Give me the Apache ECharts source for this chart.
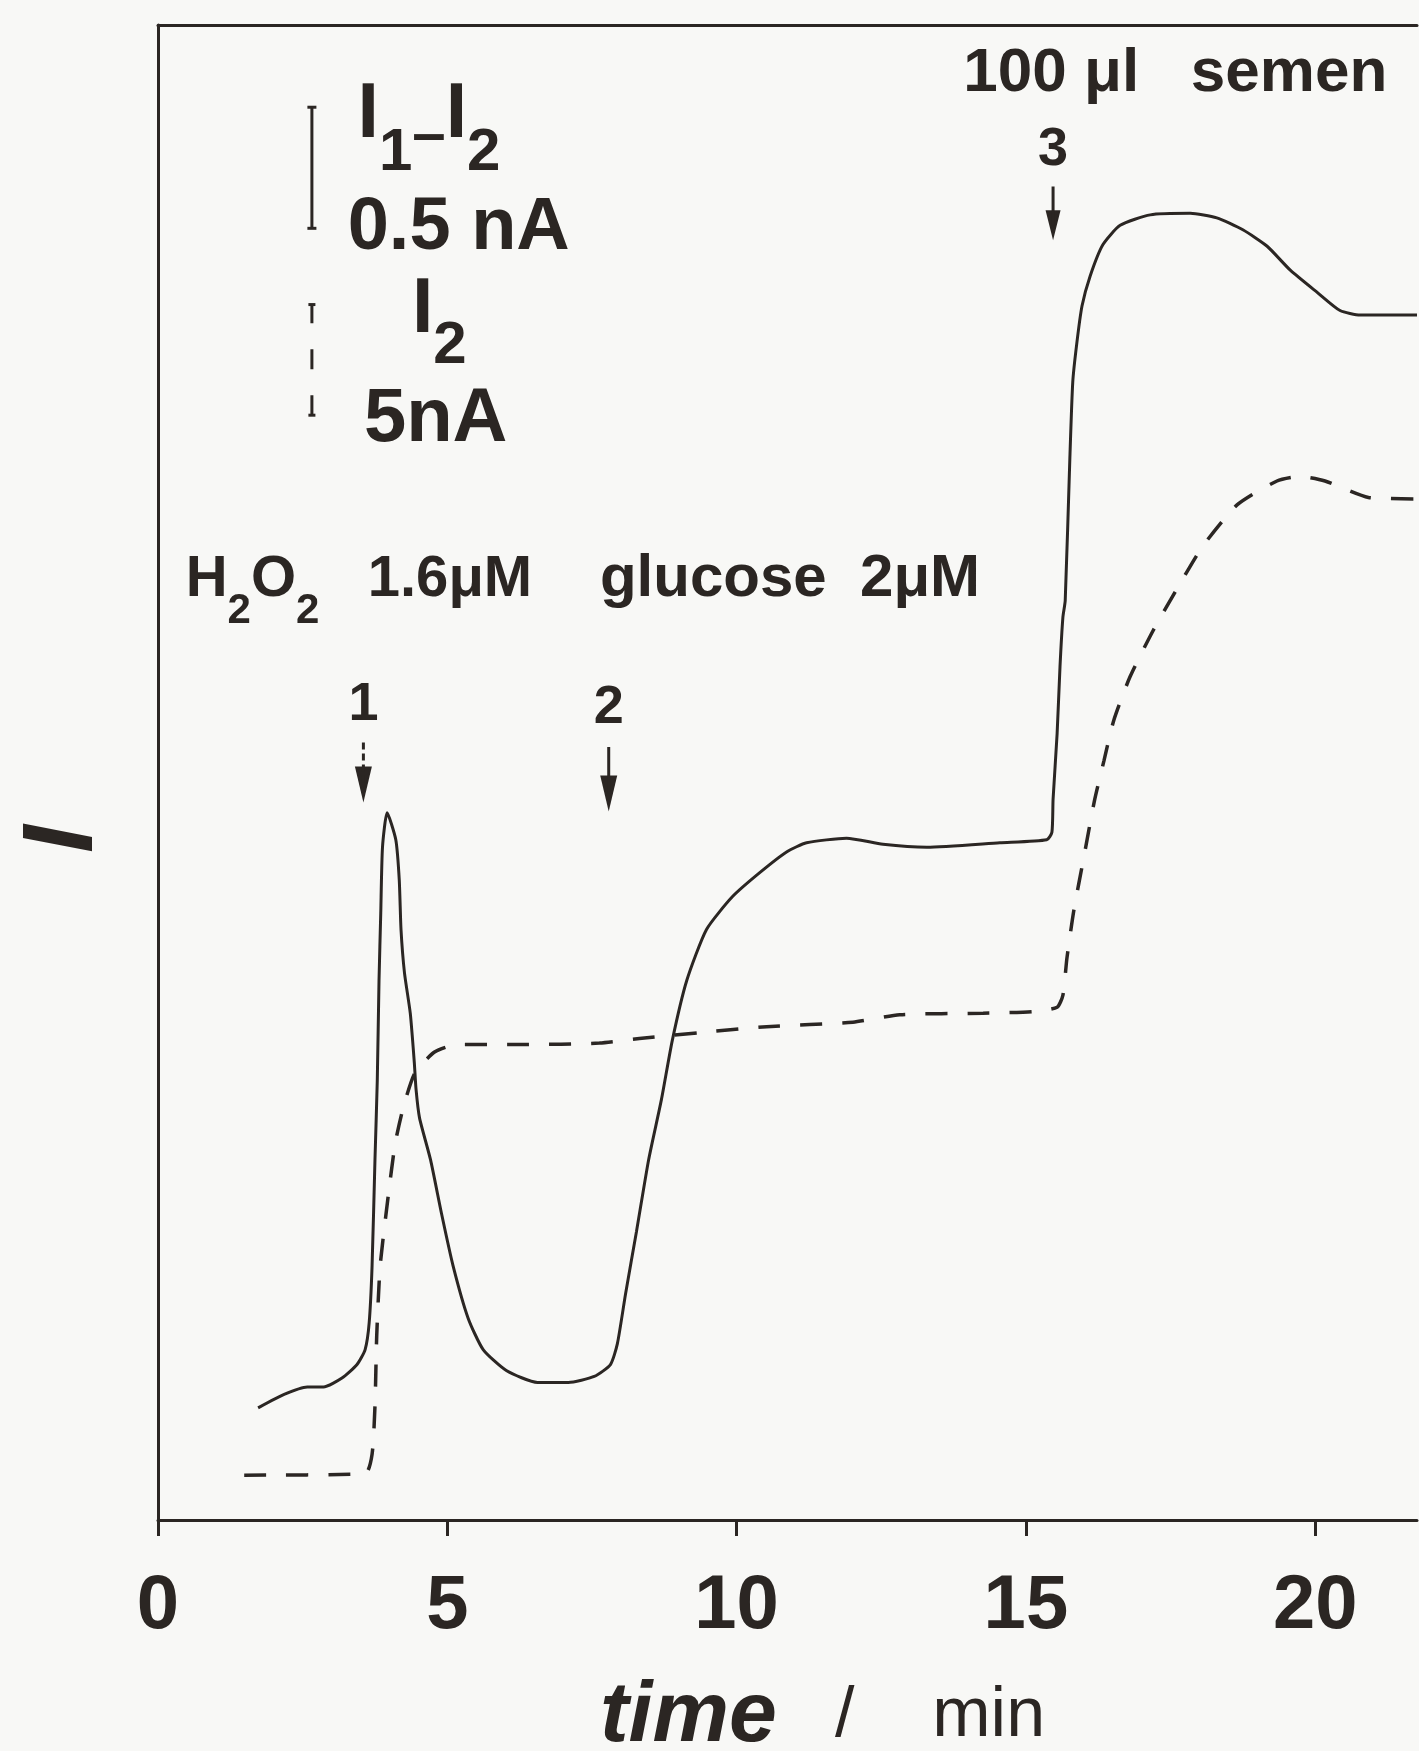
<!DOCTYPE html>
<html>
<head>
<meta charset="utf-8">
<title>I1-I2 and I2 versus time</title>
<script src="https://cdn.jsdelivr.net/npm/echarts@6/dist/echarts.min.js"></script>
<style>
  html, body { margin: 0; padding: 0; background: #f8f8f6; }
  #chart { width: 1419px; height: 1751px; }
</style>
</head>
<body>
<div id="chart"></div>
<script>
// x axis ticks (min)
const xTicks = [0, 5, 10, 15, 20];

// solid trace, I1 - I2 (signal in arbitrary units, 0 = time axis, 100 = top frame)
const diffTime = [1.73, 2.18, 2.58, 2.86, 3.18, 3.44, 3.58, 3.65, 3.70, 3.75,
  3.79, 3.82, 3.85, 3.88, 3.96, 4.11, 4.17, 4.20, 4.26, 4.36,
  4.43, 4.46, 4.52, 4.71, 4.90, 5.10, 5.36, 5.62, 6.02, 6.56,
  7.09, 7.54, 7.82, 7.94, 8.08, 8.27, 8.48, 8.70, 8.89, 9.14,
  9.48, 9.93, 10.40, 10.87, 11.21, 11.90, 12.53, 13.29, 14.55, 15.36,
  15.45, 15.47, 15.54, 15.59, 15.64, 15.68, 15.76, 15.81, 15.88, 15.97,
  16.11, 16.33, 16.63, 17.15, 17.84, 18.30, 18.75, 19.17, 19.57, 20.04,
  20.43, 20.78, 21.76];
const diffSignal = [7.5, 8.4, 8.9, 8.9, 9.5, 10.4, 11.4, 13.2, 17.0, 24.1,
  29.4, 36.1, 40.6, 45.0, 47.3, 45.5, 42.8, 39.5, 36.6, 33.9,
  30.6, 28.8, 26.9, 24.1, 20.5, 17.0, 13.5, 11.4, 10.0, 9.2,
  9.2, 9.6, 10.4, 11.8, 15.1, 19.3, 24.1, 28.1, 32.1, 36.1,
  39.5, 41.7, 43.3, 44.7, 45.3, 45.6, 45.2, 45.0, 45.3, 45.5,
  46.0, 48.2, 52.6, 57.1, 60.4, 61.5, 71.0, 76.1, 78.7, 81.2,
  83.2, 85.3, 86.6, 87.3, 87.4, 87.1, 86.3, 85.2, 83.6, 82.1,
  80.9, 80.6, 80.6];

// dashed trace, I2
const i2Time = [1.49, 3.58, 3.70, 3.75, 3.78, 3.84, 3.98, 4.10, 4.24, 4.44,
  4.78, 5.17, 6.30, 7.63, 8.32, 9.36, 10.52, 12.01, 12.82, 14.26,
  15.12, 15.54, 15.64, 15.71, 15.83, 16.00, 16.19, 16.35, 16.52, 16.80,
  17.20, 17.63, 18.05, 18.65, 19.34, 19.74, 20.17, 20.92, 21.76];
const i2Signal = [3.0, 3.1, 4.4, 7.6, 12.3, 17.0, 21.7, 25.2, 27.6, 29.9,
  31.3, 31.8, 31.8, 31.9, 32.2, 32.6, 33.0, 33.3, 33.8, 33.9,
  34.0, 34.3, 35.1, 37.6, 40.8, 44.3, 48.2, 50.8, 53.5, 56.4,
  59.5, 62.4, 65.1, 67.9, 69.5, 69.8, 69.5, 68.4, 68.3];

// scale bars (0.5 nA for I1-I2, 5 nA for I2)
const scaleBarTime = 2.66;
const solidBarRange = [86.4, 94.5];
const dashedBarRange = [73.9, 81.3];

// additions 1, 2, 3 with arrows
const eventTime = [3.55, 7.79, 15.47];
const eventLabel = ['1', '2', '3'];
const eventLabelLevel = [54.5, 54.3, 91.6];
const arrowTop = [52.0, 51.7, 89.2];
const arrowHead = [49.2, 48.6, 86.6];

const ink = '#2b2623';
const font = '"Liberation Sans", Arial, sans-serif';

const bold = (size, extra) => Object.assign(
  { fontFamily: font, fontWeight: 'bold', fontSize: size, color: ink }, extra || {});

const textItem = (t, v, formatter, rich) => ({
  value: [t, v],
  label: { show: true, position: 'right', distance: 0, formatter: formatter, rich: rich }
});

const annotations = [
  textItem(0.47, 62.9, '{m|H}{s|2}{m|O}{s|2}{m|   1.6μM}',
    { m: bold(58), s: bold(42, { padding: [64, 0, 0, 0] }) }),
  textItem(7.63, 62.9, '{m|glucose  2μM}', { m: bold(60) }),
  textItem(13.91, 96.7, '{m|100 μl   semen}', { m: bold(62) }),
  textItem(3.44, 93.95, '{m|I}{s|1}{d|–}{m|I}{s|2}',
    { m: bold(77), s: bold(60, { padding: [76, 0, 0, 0] }), d: bold(60, { padding: [42, 0, 0, 0] }) }),
  textItem(3.27, 86.4, '{m|0.5 nA}', { m: bold(74) }),
  textItem(4.38, 80.9, '{m|I}{s|2}',
    { m: bold(77), s: bold(60, { padding: [72, 0, 0, 0] }) }),
  textItem(3.55, 73.6, '{m|5nA}', { m: bold(76) })
].concat(eventTime.map((t, i) => ({
  value: [t, eventLabelLevel[i]],
  label: { show: true, position: 'inside', formatter: eventLabel[i], fontFamily: font, fontWeight: 'bold', fontSize: 54, color: ink }
})));

const chart = echarts.init(document.getElementById('chart'));

const arrowShafts = eventTime.map((t, i) => ({
  type: 'line',
  data: [[t, arrowTop[i]], [t, arrowHead[i]]],
  symbol: 'none',
  silent: true,
  lineStyle: { color: ink, width: 3, type: i === 0 ? [7, 4] : 'solid' }
}));

chart.setOption({
  animation: false,
  backgroundColor: '#f8f8f6',
  grid: {
    left: 158, right: 2, top: 25, bottom: 231,
    show: false,
    outerBoundsMode: 'none'
  },
  xAxis: [{
    type: 'value',
    min: 0,
    max: 21.76,
    interval: 5,
    axisLine: { show: true, onZero: false, lineStyle: { color: ink, width: 3 } },
    axisTick: { show: true, length: 16, customValues: xTicks, lineStyle: { color: ink, width: 3 } },
    axisLabel: {
      customValues: xTicks, margin: 49,
      fontFamily: font, fontWeight: 'bold', fontSize: 76, color: ink
    },
    splitLine: { show: false },
    name: '{t|time}{n|   /    min}',
    nameLocation: 'middle',
    nameGap: 154,
    nameTextStyle: {
      padding: [0, 0, 0, 70],
      rich: {
        t: { fontFamily: font, fontWeight: 'bold', fontStyle: 'italic', fontSize: 86, color: ink },
        n: { fontFamily: font, fontSize: 70, color: ink }
      }
    }
  }, {
    // top edge of the frame
    type: 'value',
    position: 'top',
    min: 0,
    max: 21.76,
    axisLine: { show: true, onZero: false, lineStyle: { color: ink, width: 3 } },
    axisTick: { show: false },
    axisLabel: { show: false },
    splitLine: { show: false }
  }],
  yAxis: {
    type: 'value',
    min: 0,
    max: 100,
    axisLine: { show: true, lineStyle: { color: ink, width: 3 } },
    axisTick: { show: false },
    axisLabel: { show: false },
    splitLine: { show: false }
  },
  graphic: [{
    type: 'text',
    x: 64,
    y: 839,
    rotation: Math.PI / 2,
    style: {
      text: 'I',
      fontFamily: font, fontWeight: 'bold', fontStyle: 'italic', fontSize: 100,
      fill: ink, align: 'center', verticalAlign: 'middle'
    }
  }],
  series: [
    {
      type: 'line',
      name: 'I1 - I2',
      data: diffTime.map((t, i) => [t, diffSignal[i]]),
      symbol: 'none',
      smooth: 0.2,
      lineStyle: { color: ink, width: 3 },
      z: 3
    },
    {
      type: 'line',
      name: 'I2',
      data: i2Time.map((t, i) => [t, i2Signal[i]]),
      symbol: 'none',
      smooth: 0.2,
      lineStyle: { color: ink, width: 3.5, type: [22, 20] }
    },
    {
      type: 'line',
      data: solidBarRange.map(v => [scaleBarTime, v]),
      symbol: 'rect',
      symbolSize: [9, 3],
      itemStyle: { color: ink },
      lineStyle: { color: ink, width: 3 }
    },
    {
      type: 'line',
      data: dashedBarRange.map(v => [scaleBarTime, v]),
      symbol: 'rect',
      symbolSize: [7, 3],
      itemStyle: { color: ink },
      lineStyle: { color: ink, width: 3, type: [20, 26] }
    }
  ].concat(arrowShafts, [
    {
      type: 'scatter',
      data: eventTime.map((t, i) => ({
        value: [t, arrowHead[i]],
        symbolSize: i === 2 ? [15, 30] : [17, 36]
      })),
      symbol: 'triangle',
      symbolRotate: 180,
      itemStyle: { color: ink, opacity: 1 }
    },
    {
      type: 'scatter',
      data: annotations,
      symbolSize: 1,
      itemStyle: { color: 'rgba(0,0,0,0)', opacity: 1 },
      silent: true
    }
  ])
});
</script>
</body>
</html>
